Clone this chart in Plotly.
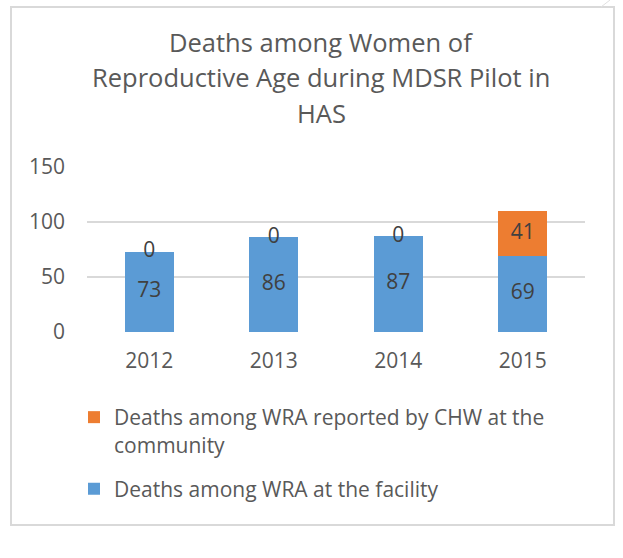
import plotly.graph_objects as go

# ---- data ----
years = ["2012", "2013", "2014", "2015"]
facility = [73, 86, 87, 69]
community = [0, 0, 0, 41]
y_ticks = [0, 50, 100, 150]
title_lines = ["Deaths among Women of", "Reproductive Age during MDSR Pilot in", "HAS"]
name_facility = "Deaths among WRA at the facility"
name_community = "Deaths among WRA reported by CHW at the<br>community"

FONT = "Open Sans"
TXT = "#595959"
W, H = 623, 558
L, R, T, B = 87, 38, 167, 226
PW, PH = W - L - R, H - T - B


def px_x(x):
    return (x - L) / PW


def px_y(y):
    return (H - B - y) / PH


fig = go.Figure()
fig.add_bar(x=years, y=facility, name=name_facility, marker_color="#5B9BD5",
            marker_line_width=0, width=0.39, legendgroup="b", legendrank=2)
fig.add_bar(x=years, y=community, name=name_community, marker_color="#ED7D31",
            marker_line_width=0, width=0.39, legendgroup="a", legendrank=1)

lab_x = years + years
lab_y = [f / 2 for f in facility] + [f + c / 2 for f, c in zip(facility, community)]
lab_t = [str(v) for v in facility + community]
fig.add_scatter(x=lab_x, y=lab_y, text=lab_t, mode="text",
                textfont=dict(family=FONT, size=21, color="#404040"),
                showlegend=False, hoverinfo="skip")

annotations = []
for i, line in enumerate(title_lines):
    annotations.append(dict(text=line, x=px_x(321), y=px_y(42 + 35.5 * i),
                            xref="paper", yref="paper", showarrow=False,
                            xanchor="center", yanchor="middle",
                            font=dict(family=FONT, size=25.5, color=TXT)))

fig.update_layout(
    width=W, height=H, autosize=False,
    margin=dict(l=L, r=R, t=T, b=B, pad=0, autoexpand=False),
    paper_bgcolor="white", plot_bgcolor="white",
    barmode="stack",
    font=dict(family=FONT, color=TXT),
    annotations=annotations,
    showlegend=True,
    legend=dict(x=px_x(74), y=px_y(397), xanchor="left", yanchor="top",
                traceorder="grouped", valign="top",
                font=dict(family=FONT, size=21, color=TXT),
                bgcolor="rgba(0,0,0,0)", tracegroupgap=14, itemwidth=30),
    shapes=[
        dict(type="rect", xref="paper", yref="paper",
             x0=px_x(11), x1=px_x(614), y0=px_y(525), y1=px_y(7),
             line=dict(color="#D9D9D9", width=2), layer="below"),
        dict(type="line", xref="paper", yref="paper",
             x0=px_x(601), x1=px_x(610), y0=px_y(7), y1=px_y(0),
             line=dict(color="#E0E0E0", width=1), layer="below"),
    ],
)
fig.update_yaxes(range=[0, 150], tickvals=y_ticks, showgrid=True, gridcolor="#D9D9D9",
                 gridwidth=1.5, zeroline=False, showline=False, ticks="",
                 tickfont=dict(family=FONT, size=21, color=TXT), ticklabelstandoff=21,
                 fixedrange=True)
fig.update_xaxes(showgrid=False, showline=False, ticks="", zeroline=False,
                 tickfont=dict(family=FONT, size=21, color=TXT), ticklabelstandoff=14,
                 fixedrange=True)

fig.write_html("out.html", config={"displayModeBar": False},
               post_script="document.body.style.margin='0';document.body.style.padding='0';")
